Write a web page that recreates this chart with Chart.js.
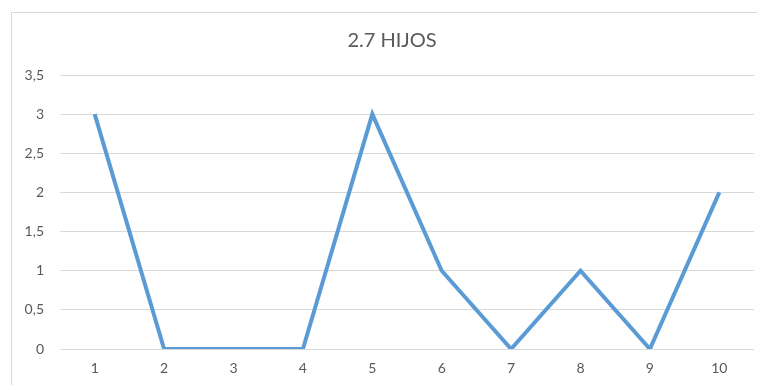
<!DOCTYPE html>
<html>
<head>
<meta charset="utf-8">
<script src="https://cdn.jsdelivr.net/npm/chart.js@4/dist/chart.umd.min.js"></script>
<style>
  html, body { margin: 0; padding: 0; background: #ffffff; }
  #wrap { width: 757px; height: 385px; position: relative; }
</style>
</head>
<body>
<div id="wrap"><canvas id="c" width="757" height="385"></canvas></div>
<script>
// Number of children per respondent
const categories = ['1', '2', '3', '4', '5', '6', '7', '8', '9', '10'];
const hijos = [3, 0, 0, 0, 3, 1, 0, 1, 0, 2];
const titleText = '2.7 HIJOS';

// Light frame around the chart, and the heading centred over the frame
const framePlugin = {
  id: 'frame',
  beforeDraw(chart) {
    const ctx = chart.ctx;
    ctx.save();
    ctx.fillStyle = '#ffffff';
    ctx.fillRect(0, 0, chart.width, chart.height);
    ctx.strokeStyle = '#d9d9d9';
    ctx.lineWidth = 1;
    ctx.strokeRect(11.5, 12.5, 800, 800);
    ctx.restore();
  },
  afterDraw(chart) {
    const ctx = chart.ctx;
    ctx.save();
    ctx.fillStyle = '#595959';
    ctx.font = '20px Lato';
    ctx.textAlign = 'center';
    ctx.textBaseline = 'middle';
    ctx.fillText(titleText, 392, 41);
    ctx.restore();
  }
};

new Chart(document.getElementById('c'), {
  type: 'line',
  data: {
    labels: categories,
    datasets: [{
      data: hijos,
      borderColor: '#5b9bd5',
      borderWidth: 4,
      pointRadius: 0,
      pointHoverRadius: 0,
      tension: 0,
      fill: false,
      borderJoinStyle: 'miter'
    }]
  },
  options: {
    responsive: false,
    animation: false,
    layout: { padding: { left: 12, right: 3, top: 75, bottom: 0 } },
    plugins: {
      legend: { display: false },
      tooltip: { enabled: false },
      title: { display: false }
    },
    scales: {
      x: {
        offset: true,
        grid: { display: false, drawTicks: false },
        border: { display: false },
        ticks: {
          color: '#595959',
          font: { family: 'Lato', size: 14 },
          padding: 11,
          maxRotation: 0
        },
        afterFit(scale) { scale.height = 36; }
      },
      y: {
        min: 0,
        max: 3.5,
        grid: { color: '#d9d9d9', lineWidth: 1, drawTicks: false },
        border: { display: false },
        ticks: {
          stepSize: 0.5,
          color: '#595959',
          font: { family: 'Lato', size: 14 },
          padding: 16,
          callback: v => String(v).replace('.', ',')
        },
        afterFit(scale) { scale.width = 48; }
      }
    }
  },
  plugins: [framePlugin]
});
</script>
</body>
</html>
